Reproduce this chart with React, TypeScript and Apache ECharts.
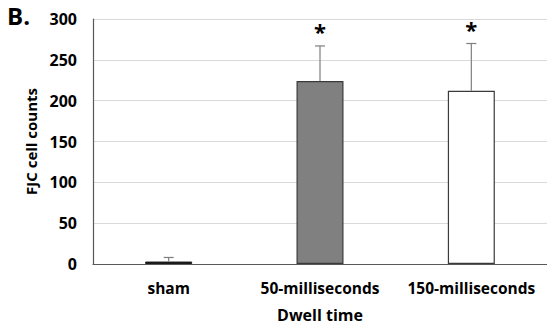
import React, { useEffect, useRef } from "react";
import * as echarts from "echarts";

const categories = ["sham", "50-milliseconds", "150-milliseconds"];
const means = [3, 224, 212];
const errUpper = [8, 267, 270];
const significance = ["", "*", "*"];
const yTicks = [0, 50, 100, 150, 200, 250, 300];

const FONT = "'Open Sans', 'Noto Sans', sans-serif";

export default function App() {
  const ref = useRef<HTMLDivElement>(null);
  useEffect(() => {
    document.body.style.margin = "0";
    if (!ref.current) return;
    const chart = echarts.init(ref.current, undefined, { renderer: "svg" });
    const barStyles = [
      { color: "#1a1a1a", borderColor: "#1a1a1a", borderWidth: 1 },
      { color: "#808080", borderColor: "#3a3a3a", borderWidth: 1.2 },
      { color: "#ffffff", borderColor: "#3a3a3a", borderWidth: 1.2 },
    ];
    chart.setOption({
      animation: false,
      backgroundColor: "#ffffff",
      grid: { left: 93, right: 0, top: 19, bottom: 60, containLabel: false },
      graphic: [
        {
          type: "text",
          left: 7,
          top: 3,
          style: { text: "B.", font: `bold 24px ${FONT}`, fill: "#000" },
        },
      ],
      xAxis: {
        type: "category",
        data: categories,
        axisLine: { show: true, lineStyle: { color: "#595959", width: 1.2 } },
        axisTick: { show: false },
        axisLabel: {
          interval: 0,
          hideOverlap: false,
          fontFamily: FONT,
          fontWeight: "bold",
          fontSize: 15.5,
          color: "#000",
          margin: 16,
        },
        name: "Dwell time",
        nameLocation: "middle",
        nameGap: 43,
        nameTextStyle: { fontFamily: FONT, fontWeight: "bold", fontSize: 16, color: "#000" },
      },
      yAxis: {
        type: "value",
        min: yTicks[0],
        max: yTicks[yTicks.length - 1],
        interval: 50,
        axisLine: { show: true, lineStyle: { color: "#595959", width: 1.2 } },
        axisTick: { show: false },
        splitLine: { show: true, lineStyle: { color: "#d9d9d9", width: 1 } },
        axisLabel: {
          fontFamily: FONT,
          fontWeight: "bold",
          fontSize: 16,
          color: "#000",
          margin: 16,
        },
        name: "FJC cell counts",
        nameLocation: "middle",
        nameGap: 54,
        nameRotate: 90,
        nameTextStyle: { fontFamily: FONT, fontWeight: "bold", fontSize: 15, color: "#000" },
      },
      series: [
        {
          type: "bar",
          barWidth: 47,
          data: means.map((v, i) => ({ value: v, itemStyle: barStyles[i] })),
          z: 2,
        },
        {
          type: "custom",
          z: 3,
          data: categories.map((c, i) => [i, means[i], errUpper[i], significance[i]]),
          renderItem: (params: any, api: any) => {
            const x = api.value(0);
            const base = api.coord([x, api.value(1)]);
            const top = api.coord([x, api.value(2)]);
            const sig = significance[params.dataIndex];
            const children: any[] = [
              {
                type: "line",
                shape: { x1: base[0], y1: base[1], x2: top[0], y2: top[1] },
                style: { stroke: "#7f7f7f", lineWidth: 1.2 },
              },
              {
                type: "line",
                shape: { x1: top[0] - 5, y1: top[1], x2: top[0] + 5, y2: top[1] },
                style: { stroke: "#7f7f7f", lineWidth: 1.2 },
              },
            ];
            if (sig) {
              children.push({
                type: "text",
                x: top[0],
                y: top[1] - 4,
                style: {
                  text: sig,
                  font: `bold 22px ${FONT}`,
                  fill: "#000",
                  align: "center",
                  verticalAlign: "bottom",
                },
              });
            }
            return { type: "group", children };
          },
        },
      ],
    });
    return () => chart.dispose();
  }, []);
  return <div ref={ref} style={{ width: 547, height: 328 }} />;
}
